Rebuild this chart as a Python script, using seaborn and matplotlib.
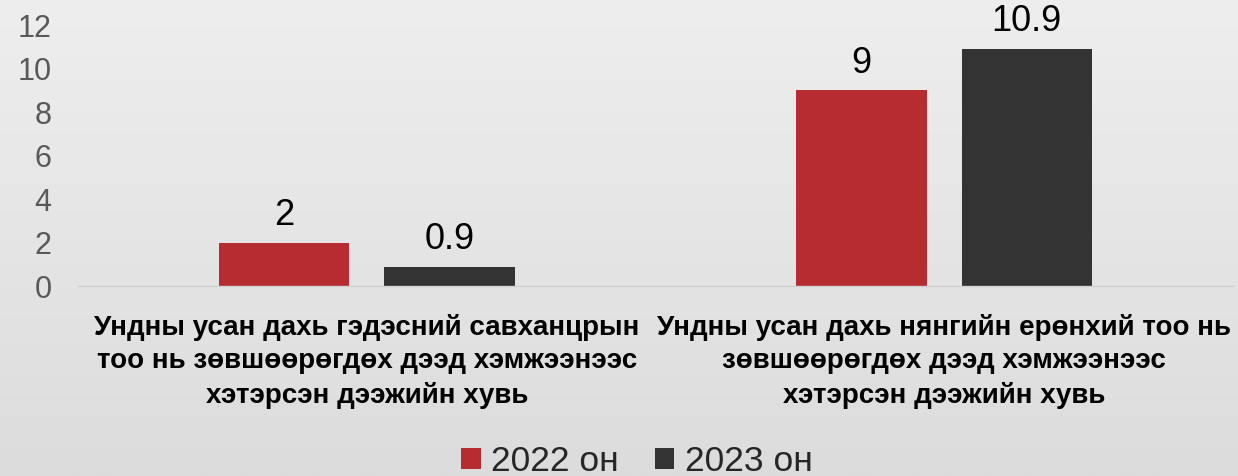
import numpy as np
import pandas as pd
import matplotlib
matplotlib.use("Agg")
import matplotlib.pyplot as plt
from matplotlib.patches import Patch
import seaborn as sns

categories = [
    "Ундны усан дахь гэдэсний савханцрын\nтоо нь зөвшөөрөгдөх дээд хэмжээнээс\nхэтэрсэн дээжийн хувь",
    "Ундны усан дахь нянгийн ерөнхий тоо нь\nзөвшөөрөгдөх дээд хэмжээнээс\nхэтэрсэн дээжийн хувь",
]
series_names = ["2022 он", "2023 он"]
values_2022 = [2, 9]
values_2023 = [0.9, 10.9]
y_ticks = [0, 2, 4, 6, 8, 10, 12]

colors = ["#b72c31", "#333333"]

df = pd.DataFrame({
    "category": categories * 2,
    "year": [series_names[0]] * 2 + [series_names[1]] * 2,
    "value": values_2022 + values_2023,
})

sns.set_theme(style="white")
plt.rcParams["font.family"] = ["Liberation Sans", "DejaVu Sans"]

fig = plt.figure(figsize=(12.38, 4.76), dpi=100)

# soft vertical gradient behind the chart
bg = fig.add_axes([0, 0, 1, 1], zorder=-10)
grad = np.linspace(0, 1, 256).reshape(-1, 1)
cmap = matplotlib.colors.LinearSegmentedColormap.from_list("bg", ["#eeeeee", "#dcdcdc"])
bg.imshow(grad, aspect="auto", cmap=cmap, extent=[0, 1, 0, 1], origin="upper")
bg.set_axis_off()

ax = fig.add_axes([0.063, 0.399, 0.933, 0.548])
ax.set_facecolor("none")

sns.barplot(data=df, x="category", y="value", hue="year", palette=colors,
            width=0.572, gap=0.21, ax=ax, legend=False, saturation=1,
            linewidth=0, edgecolor="none")

for cont in ax.containers:
    ax.bar_label(cont, fmt="{:g}", padding=7, fontsize=26, color="black")

ax.set_xlim(-0.5, 1.5)
ax.set_ylim(0, 12)
ax.set_yticks(y_ticks)
ax.set_yticklabels([str(t) for t in y_ticks], fontsize=22, color="#595959")
ax.tick_params(axis="y", length=0, pad=19)
ax.tick_params(axis="x", length=0, pad=20)
for lbl in ax.get_xticklabels():
    lbl.set_fontfamily(["Liberation Sans Narrow", "Liberation Sans", "DejaVu Sans"])
    lbl.set_fontweight("bold")
    lbl.set_fontsize(20)
    lbl.set_linespacing(1.38)
    lbl.set_color("black")
ax.set_xlabel("")
ax.set_ylabel("")
for side in ["top", "right", "left"]:
    ax.spines[side].set_visible(False)
ax.spines["bottom"].set_color("#d0d0d0")
ax.spines["bottom"].set_linewidth(1)
for t in ax.texts:
    t.set_clip_on(False)

handles = [Patch(facecolor=c, edgecolor="none", label=n) for c, n in zip(colors, series_names)]
fig.legend(handles=handles, loc="center", bbox_to_anchor=(637 / 1238, 0.03), ncol=2,
           frameon=False, fontsize=25.5, handlelength=0.55, handleheight=0.55,
           handletextpad=0.3, columnspacing=1.0, borderpad=0.1)

fig.savefig("out.png", dpi=100)
